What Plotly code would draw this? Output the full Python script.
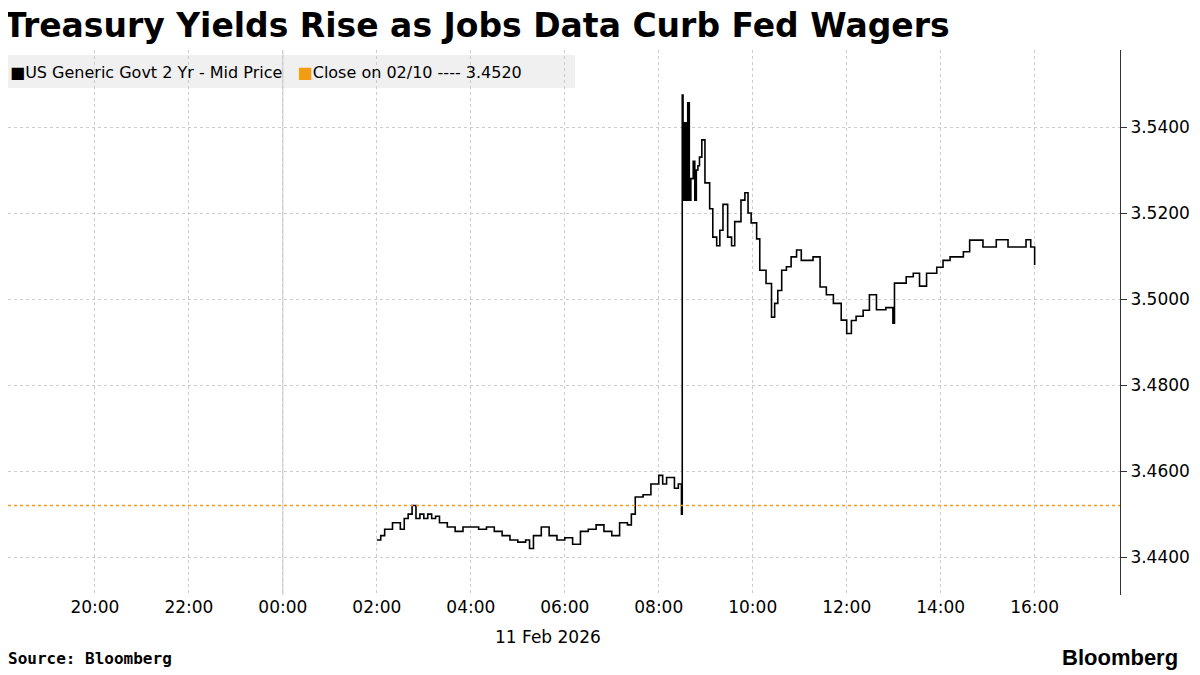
import plotly.graph_objects as go

times = ["02:00","02:05","02:10","02:20","02:30","02:35","02:40","02:45","02:50","02:55","03:00","03:05","03:10","03:15","03:20","03:30","03:40","03:50","04:00","04:10","04:20","04:30","04:40","04:50","05:00","05:10","05:15","05:20","05:30","05:40","05:50","06:00","06:10","06:20","06:30","06:40","06:50","07:00","07:10","07:20","07:25","07:30","07:40","07:50","08:00","08:05","08:10","08:20","08:25","08:29",
         "08:30","08:31","08:33","08:35","08:37","08:39","08:41","08:44","08:46","08:48","08:50","08:52","08:55","08:59","09:05","09:09","09:14","09:18","09:22","09:28","09:33","09:37","09:45","09:50","09:54","09:58","10:05","10:09","10:17","10:24","10:28","10:32","10:37","10:43","10:49","10:56","11:02","11:17","11:26","11:34","11:43","11:53","12:00","12:06","12:12","12:21","12:29","12:38","12:50","12:59","13:01","13:16","13:25","13:33","13:42","13:55","14:03","14:12","14:25","14:29","14:37","14:54","15:11","15:26","15:49","15:55","16:00"]
yields = [3.4440,3.4450,3.4465,3.4480,3.4465,3.4490,3.4500,3.4520,3.4490,3.4500,3.4490,3.4500,3.4490,3.4495,3.4480,3.4470,3.4460,3.4470,3.4470,3.4465,3.4470,3.4460,3.4450,3.4440,3.4435,3.4440,3.4420,3.4450,3.4470,3.4450,3.4440,3.4445,3.4430,3.4460,3.4465,3.4475,3.4460,3.4450,3.4480,3.4475,3.4500,3.4540,3.4545,3.4570,3.4590,3.4570,3.4585,3.4560,3.4570,3.4500,
          3.5474,3.5230,3.5410,3.5230,3.5456,3.5230,3.5280,3.5320,3.5230,3.5300,3.5310,3.5330,3.5370,3.5270,3.5210,3.5144,3.5124,3.5160,3.5220,3.5144,3.5124,3.5180,3.5230,3.5247,3.5200,3.5177,3.5140,3.5067,3.5036,3.4958,3.4990,3.5020,3.5067,3.5075,3.5098,3.5114,3.5090,3.5098,3.5028,3.5010,3.4990,3.4951,3.4920,3.4950,3.4960,3.4974,3.5010,3.4975,3.4980,3.4944,3.5037,3.5052,3.5060,3.5030,3.5060,3.5074,3.5090,3.5098,3.5098,3.5110,3.5137,3.5121,3.5138,3.5121,3.5138,3.5121,3.5079]
prev_close = 3.4520
title = "Treasury Yields Rise as Jobs Data Curb Fed Wagers"
series_name = "US Generic Govt 2 Yr - Mid Price"
close_label = "Close on 02/10 ---- 3.4520"
y_ticks = [3.44, 3.46, 3.48, 3.50, 3.52, 3.54]
x_ticks = ["2026-02-10 20:00","2026-02-10 22:00","2026-02-11 00:00","2026-02-11 02:00","2026-02-11 04:00","2026-02-11 06:00","2026-02-11 08:00","2026-02-11 10:00","2026-02-11 12:00","2026-02-11 14:00","2026-02-11 16:00"]

xs = ["2026-02-11 " + t for t in times]
fig = go.Figure()
fig.add_trace(go.Scatter(x=xs, y=yields, mode="lines", line=dict(color="black", width=1.6, shape="hv"), showlegend=False))
fig.add_hline(y=prev_close, line=dict(color="#f39c12", width=1.5, dash="dot"))
fig.add_vline(x="2026-02-11 00:00", line=dict(color="#c8c8c8", width=1))

PW = 1112
PH = 545
fig.update_layout(
    width=1200, height=675, paper_bgcolor="white", plot_bgcolor="white",
    margin=dict(l=0, r=88, t=42, b=88),
    font=dict(family="DejaVu Sans, Liberation Sans", size=16, color="black"),
    xaxis=dict(range=["2026-02-10 18:09","2026-02-11 17:49"], tickvals=x_ticks, tickformat="%H:%M",
               showgrid=True, gridcolor="#cccccc", griddash="dot", showline=False, zeroline=False,
               ticks="", tickfont=dict(size=17)),
    yaxis=dict(range=[3.4312, 3.5579], side="right", tickvals=y_ticks, tickformat=".4f",
               showgrid=True, gridcolor="#cccccc", griddash="dot", showline=True, linecolor="#333",
               ticks="outside", ticklen=6, tickcolor="#333", zeroline=False, tickfont=dict(size=17)),
)
fig.add_annotation(text="<b>"+title+"</b>", xref="paper", yref="paper", x=0, y=1, xanchor="left", yanchor="top",
                   xshift=-6, yshift=46, showarrow=False, font=dict(size=33, family="DejaVu Sans"))
fig.add_shape(type="rect", xref="paper", yref="paper", x0=-8/PW, x1=567/PW, y0=1-(88-50)/PH, y1=1-(55-50)/PH,
              fillcolor="#f0f0f0", line=dict(width=0), layer="below")
fig.add_annotation(text="<span style='color:black'>■</span>"+series_name+"   <span style='color:#f39c12'>■</span>"+close_label,
                   xref="paper", yref="paper", x=0, y=1-(72-50)/PH, xanchor="left", yanchor="middle",
                   showarrow=False, font=dict(size=16, family="DejaVu Sans"))
fig.add_annotation(text="11 Feb 2026", xref="x", yref="paper", x="2026-02-11 05:38", y=0, yanchor="top",
                   yshift=-30, showarrow=False, font=dict(size=17))
fig.add_annotation(text="<b>Source: Bloomberg</b>", xref="paper", yref="paper", x=0, y=0, xanchor="left", yanchor="top",
                   xshift=-2, yshift=-52, showarrow=False, font=dict(size=16, family="DejaVu Sans Mono, monospace"))
fig.add_annotation(text="<b>Bloomberg</b>", xref="paper", yref="paper", x=1, y=0, xanchor="right", yanchor="top",
                   xshift=60, yshift=-48, showarrow=False, font=dict(size=22, family="Liberation Sans"))
fig.write_html("out.html")
